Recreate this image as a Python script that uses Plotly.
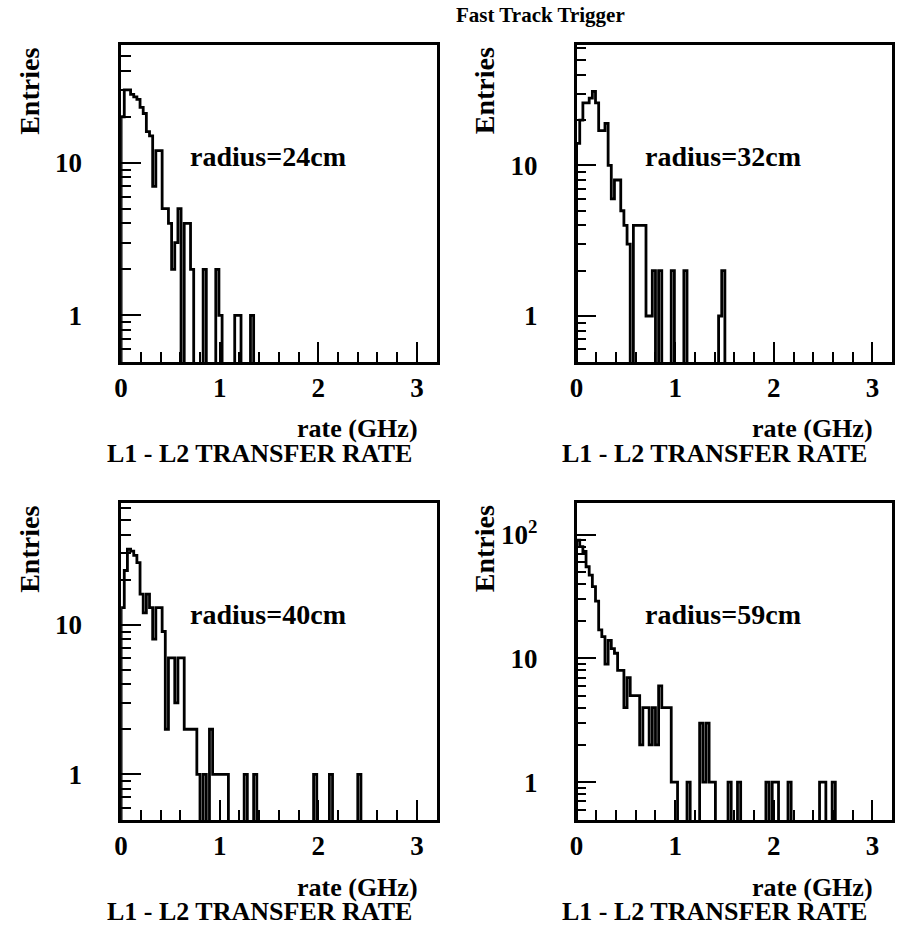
import numpy as np
import plotly.graph_objects as go

W, H = 908, 931

# ---------------- data (bin contents, 100 bins from 0 to 3.2 GHz) ----------------
bin_lo, bin_hi, n_bins = 0.0, 3.2, 100

counts_r24 = [20, 30, 30, 28, 27, 26, 23, 21, 16, 15,
              7, 12, 12, 5, 5, 4, 2, 3, 5, 0,
              4, 4, 2, 0, 0, 0, 2, 0, 0, 0,
              2, 1, 0, 0, 0, 0, 1, 1, 0, 0,
              0, 1]
counts_r32 = [14, 20, 26, 26, 28, 31, 26, 17, 17, 19,
              10, 6, 8, 8, 5, 4, 3, 0, 4, 4,
              4, 4, 1, 1, 2, 0, 2, 0, 0, 0,
              2, 0, 0, 0, 2, 0, 0, 0, 0, 0,
              0, 0, 0, 0, 0, 1, 2]
counts_r40 = [13, 23, 32, 31, 29, 26, 16, 12, 16, 13,
              8, 13, 13, 9, 2, 6, 6, 3, 6, 6,
              2, 2, 2, 2, 1, 0, 1, 0, 2, 1,
              1, 1, 1, 1, 0, 0, 0, 0, 0, 1,
              0, 0, 1, 0, 0, 0, 0, 0, 0, 0,
              0, 0, 0, 0, 0, 0, 0, 0, 0, 0,
              0, 1, 0, 0, 0, 0, 1, 0, 0, 0,
              0, 0, 0, 0, 0, 1]
counts_r59 = [90, 80, 73, 55, 47, 38, 29, 17, 15, 9,
              14, 12, 11, 8, 8, 4, 7, 5, 5, 5,
              2, 4, 4, 2, 4, 2, 6, 4, 4, 4,
              1, 1, 0, 0, 0, 1, 0, 0, 0, 3,
              1, 3, 1, 1, 0, 0, 0, 0, 1, 0,
              0, 1, 0, 0, 0, 0, 0, 0, 0, 0,
              1, 0, 1, 1, 0, 0, 0, 1, 0, 0,
              0, 0, 0, 0, 0, 0, 0, 1, 1, 0,
              0, 1]

panel_labels = ["radius=24cm", "radius=32cm", "radius=40cm", "radius=59cm"]
x_title = "rate (GHz)"
hist_title = "L1 - L2 TRANSFER RATE"
y_title = "Entries"
main_title = "Fast Track Trigger"
x_tick_vals = [0, 1, 2, 3]
x_tick_text = ["0", "1", "2", "3"]

# ---------------- layout geometry (pixels) ----------------
FONT = "Liberation Serif"
frames = [  # left, top, right, bottom in px
    (115, 45, 433, 362),
    (574, 45, 892, 362),
    (115, 503, 433, 820),
    (574, 503, 892, 820),
]
y_tops = [59, 63, 65, 180]
y_bottom = 0.495


def px_x(p):
    return p / W


def px_y(p):
    return 1 - p / H


edges = np.linspace(bin_lo, bin_hi, n_bins + 1)

fig = go.Figure()
all_counts = [counts_r24, counts_r32, counts_r40, counts_r59]
for i, cnt in enumerate(all_counts):
    c = np.zeros(n_bins)
    c[:len(cnt)] = cnt
    yv = np.where(c > 0, c, 1e-3)
    xs = np.concatenate([[edges[0]], edges[:-1], [edges[-1]]])
    ys = np.concatenate([[1e-3], yv, [yv[-1]]])
    ax = "" if i == 0 else str(i + 1)
    fig.add_trace(go.Scatter(
        x=xs, y=ys, mode="lines", line=dict(shape="hv", color="black", width=2.8),
        xaxis="x" + ax, yaxis="y" + ax, showlegend=False, hoverinfo="skip"))

annotations = []
for i, (l, t, r, b) in enumerate(frames):
    ax = "" if i == 0 else str(i + 1)
    top = y_tops[i]
    if top > 100:
        ytv = [1, 10, 100]
        ytt = ["1", "10", "10<sup>2</sup>"]
        minor_vals = [0.5, 0.6, 0.7, 0.8, 0.9] + list(range(2, 10)) + list(range(20, 100, 10))
    else:
        ytv = [1, 10]
        ytt = ["1", "10"]
        minor_vals = [0.5, 0.6, 0.7, 0.8, 0.9] + list(range(2, 10)) + [v for v in range(20, 70, 10) if v < top]
    xa = dict(
        domain=[px_x(l), px_x(r)], range=[bin_lo, bin_hi], anchor="y" + ax,
        showline=True, mirror=True, linecolor="black", linewidth=2.5,
        ticks="inside", ticklen=20, tickwidth=2, tickcolor="black",
        tickmode="array", tickvals=x_tick_vals, ticktext=x_tick_text,
        minor=dict(ticks="inside", ticklen=10, tickwidth=2, tickcolor="black",
                   tickmode="array", tickvals=[round(v * 0.2, 1) for v in range(1, 16) if v % 5]),
        showgrid=False, zeroline=False, ticklabelstandoff=0,
        tickfont=dict(family=FONT, size=27, color="black", weight="bold"),
    )
    ya = dict(
        domain=[px_y(b), px_y(t)], type="log",
        range=[np.log10(y_bottom), np.log10(top)], anchor="x" + ax,
        showline=True, mirror=True, linecolor="black", linewidth=2.5,
        ticks="inside", ticklen=20, tickwidth=2, tickcolor="black",
        tickmode="array", tickvals=ytv, ticktext=ytt,
        minor=dict(ticks="inside", ticklen=10, tickwidth=2, tickcolor="black",
                   tickmode="array", tickvals=minor_vals),
        showgrid=False, zeroline=False, ticklabelstandoff=31,
        tickfont=dict(family=FONT, size=27, color="black", weight="bold"),
    )
    fig.update_layout({"xaxis" + ax: xa, "yaxis" + ax: ya})

    tf = dict(family=FONT, size=26, color="black", weight="bold")
    base = dict(xref="paper", yref="paper", showarrow=False)
    annotations += [
        dict(text=y_title, x=px_x(l - 93), y=px_y(t + 46), textangle=-90,
             xanchor="center", yanchor="middle",
             font=dict(family=FONT, size=28, color="black", weight="bold"), **base),
        dict(text=panel_labels[i], x=px_x(l + 148), y=px_y(t + 111),
             xanchor="center", yanchor="middle",
             font=dict(family=FONT, size=28, color="black", weight="bold"), **base),
        dict(text=x_title, x=px_x(r - 17), y=px_y(b + 67),
             xanchor="right", yanchor="middle", font=tf, **base),
        dict(text=hist_title, x=px_x(l + 139), y=px_y(b + 91),
             xanchor="center", yanchor="middle", font=tf, **base),
    ]

annotations.append(dict(text=main_title, x=px_x(538), y=px_y(15), xanchor="center",
                        yanchor="middle", xref="paper", yref="paper", showarrow=False,
                        font=dict(family=FONT, size=21, color="black", weight="bold")))

fig.update_layout(
    width=W, height=H, margin=dict(l=0, r=0, t=0, b=0),
    paper_bgcolor="white", plot_bgcolor="white",
    annotations=annotations, showlegend=False,
)

fig.write_html("out.html")
